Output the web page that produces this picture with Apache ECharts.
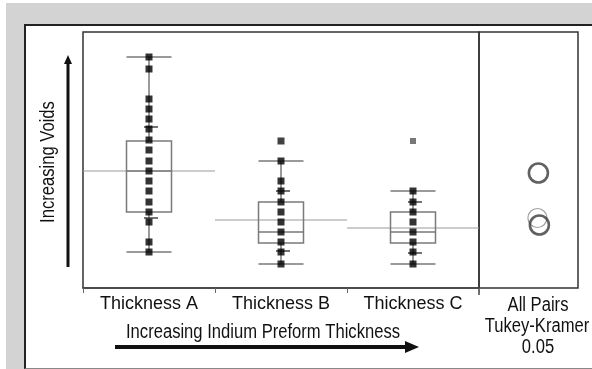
<!DOCTYPE html>
<html>
<head>
<meta charset="utf-8">
<script src="https://cdn.jsdelivr.net/npm/echarts@6/dist/echarts.min.js"></script>
<style>
  html, body { margin: 0; padding: 0; width: 592px; height: 369px; overflow: hidden; background: #ffffff; }
  #gray { position: absolute; left: 6px; top: 3px; width: 586px; height: 366px; background: #d3d3d3; }
  #frame { position: absolute; left: 24px; top: 24px; width: 568px; height: 342px; background: #ffffff;
           border-left: 2px solid #222; border-top: 2px solid #222; border-bottom: 1px solid #888; box-sizing: content-box; }
  #chart { position: absolute; left: 0; top: 0; width: 592px; height: 369px; }
</style>
</head>
<body>
<div id="gray"></div>
<div id="frame"></div>
<div id="chart"></div>
<script>
// ---- data (arbitrary void units) ----
const categories = ['Thickness A', 'Thickness B', 'Thickness C'];
const pointsA = [23.1, 21.9, 18.9, 17.9, 16.9, 15.9, 14.8, 13.8, 12.7, 11.7, 10.7, 9.7, 8.6, 7.6, 6.6, 4.6, 3.6];
const pointsB = [12.7, 10.7, 9.7, 8.6, 7.6, 6.6, 5.6, 4.6, 3.6, 2.4];
const pointsC = [9.7, 8.6, 7.6, 6.6, 5.6, 4.6, 3.6, 2.4];
const outliersB = [14.7];
const outliersC = [14.7];
// boxplot: [lower whisker, Q1, median, Q3, upper whisker]
const boxA = [3.6, 7.6, 11.7, 14.7, 23.1];
const boxB = [2.4, 4.5, 5.6, 8.6, 12.7];
const boxC = [2.4, 4.5, 5.6, 7.6, 9.7];
const groupMeans = [11.7, 6.8, 6.0];
const quantile10 = [7.0, 3.7, 3.5];
const quantile90 = [16.1, 9.7, 8.6];
const circleCenters = [11.5, 7.0, 6.3];
const circleX = [0.6, 0.59, 0.61];
const xTitle = 'Increasing Indium Preform Thickness';
const yTitle = 'Increasing Voids';
const sideLabels = ['All Pairs', 'Tukey-Kramer', '0.05'];
const yMin = 0, yMax = 25.6;

const FONT = "'Liberation Sans', Arial, sans-serif";
const NARROW = 0.83; // horizontal squeeze to mimic the condensed face

const scatterData = [];
[pointsA, pointsB, pointsC].forEach((arr, i) => arr.forEach(v => scatterData.push([i, v])));

const chart = echarts.init(document.getElementById('chart'), null, { renderer: 'canvas' });

function label(text, x, y, size, rot) {
  return { type: 'text', x: x, y: y, rotation: rot || 0, scaleX: NARROW, scaleY: 1,
    style: { text: text, font: size + 'px ' + FONT, fill: '#111', textAlign: 'center', textVerticalAlign: 'middle' } };
}

const option = {
  animation: false,
  backgroundColor: 'transparent',
  grid: [
    { left: 83, top: 32, width: 396, height: 256, show: true, borderColor: '#333', borderWidth: 1.5, backgroundColor: 'transparent' },
    { left: 479, top: 32, width: 99, height: 256, show: true, borderColor: '#333', borderWidth: 1.5, backgroundColor: 'transparent' }
  ],
  xAxis: [
    { type: 'category', gridIndex: 0, data: categories, boundaryGap: true,
      axisLine: { show: true, lineStyle: { color: '#444', width: 1.5 } },
      axisTick: { show: true, length: 5, lineStyle: { color: '#666' } },
      axisLabel: { interval: 0, color: '#111', fontSize: 18, fontFamily: FONT, margin: 7 } },
    { type: 'value', gridIndex: 1, min: 0, max: 1,
      axisLine: { show: false }, axisTick: { show: false }, axisLabel: { show: false }, splitLine: { show: false } }
  ],
  yAxis: [
    { type: 'value', gridIndex: 0, min: yMin, max: yMax,
      axisLine: { show: false }, axisTick: { show: false }, axisLabel: { show: false }, splitLine: { show: false } },
    { type: 'value', gridIndex: 1, min: yMin, max: yMax,
      axisLine: { show: false }, axisTick: { show: false }, axisLabel: { show: false }, splitLine: { show: false } }
  ],
  series: [
    { type: 'custom', xAxisIndex: 0, yAxisIndex: 0, z: 1,
      data: groupMeans.map((m, i) => [i, m]),
      renderItem: function (params, api) {
        const p = api.coord([api.value(0), api.value(1)]);
        const w = api.size([1, 0])[0];
        return { type: 'line', shape: { x1: p[0] - w / 2, y1: p[1], x2: p[0] + w / 2, y2: p[1] },
                 style: { stroke: '#9a9a9a', lineWidth: 1.2 } };
      } },
    { type: 'boxplot', xAxisIndex: 0, yAxisIndex: 0, z: 2,
      boxWidth: [45, 45],
      itemStyle: { color: 'transparent', borderColor: '#7a7a7a', borderWidth: 1.5 },
      data: [boxA, boxB, boxC] },
    { type: 'custom', xAxisIndex: 0, yAxisIndex: 0, z: 3,
      data: quantile10.map((q, i) => [i, q]).concat(quantile90.map((q, i) => [i, q])),
      renderItem: function (params, api) {
        const p = api.coord([api.value(0), api.value(1)]);
        return { type: 'line', shape: { x1: p[0] - 5, y1: p[1], x2: p[0] + 9, y2: p[1] },
                 style: { stroke: '#444', lineWidth: 1.5 } };
      } },
    { type: 'scatter', xAxisIndex: 0, yAxisIndex: 0, z: 4,
      symbol: 'rect', symbolSize: 7, itemStyle: { color: '#000' },
      data: scatterData },
    { type: 'scatter', xAxisIndex: 0, yAxisIndex: 0, z: 4,
      symbol: 'rect', symbolSize: 7, itemStyle: { color: '#111' },
      data: outliersB.map(v => [1, v]) },
    { type: 'scatter', xAxisIndex: 0, yAxisIndex: 0, z: 4,
      symbol: 'rect', symbolSize: 6, itemStyle: { color: '#555' },
      data: outliersC.map(v => [2, v]) },
    { type: 'scatter', xAxisIndex: 1, yAxisIndex: 1, z: 4,
      symbol: 'circle', symbolSize: 19,
      data: circleCenters.map((c, i) => ({
        value: [circleX[i], c],
        itemStyle: i === 1
          ? { color: 'transparent', borderColor: '#8a8a8a', borderWidth: 1.2 }
          : { color: 'transparent', borderColor: '#3a3a3a', borderWidth: 2.6 }
      })) }
  ],
  graphic: [
    { type: 'line', shape: { x1: 68, y1: 267, x2: 68, y2: 62 }, style: { stroke: '#111', lineWidth: 3 } },
    { type: 'polygon', shape: { points: [[68, 55], [64, 64], [72, 64]] }, style: { fill: '#111' } },
    { type: 'line', shape: { x1: 115, y1: 347, x2: 408, y2: 347 }, style: { stroke: '#111', lineWidth: 4 } },
    { type: 'polygon', shape: { points: [[419, 347], [405, 341], [405, 353]] }, style: { fill: '#111' } },
    label(yTitle, 48, 162, 20, Math.PI / 2),
    label(xTitle, 263, 332, 20),
    label(sideLabels[0], 538, 305, 20),
    label(sideLabels[1], 537, 326, 20),
    label(sideLabels[2], 538, 347, 20),
    { type: 'line', shape: { x1: 479, y1: 288, x2: 479, y2: 295 }, style: { stroke: '#444', lineWidth: 1.5 } }
  ]
};
chart.setOption(option);
</script>
</body>
</html>
